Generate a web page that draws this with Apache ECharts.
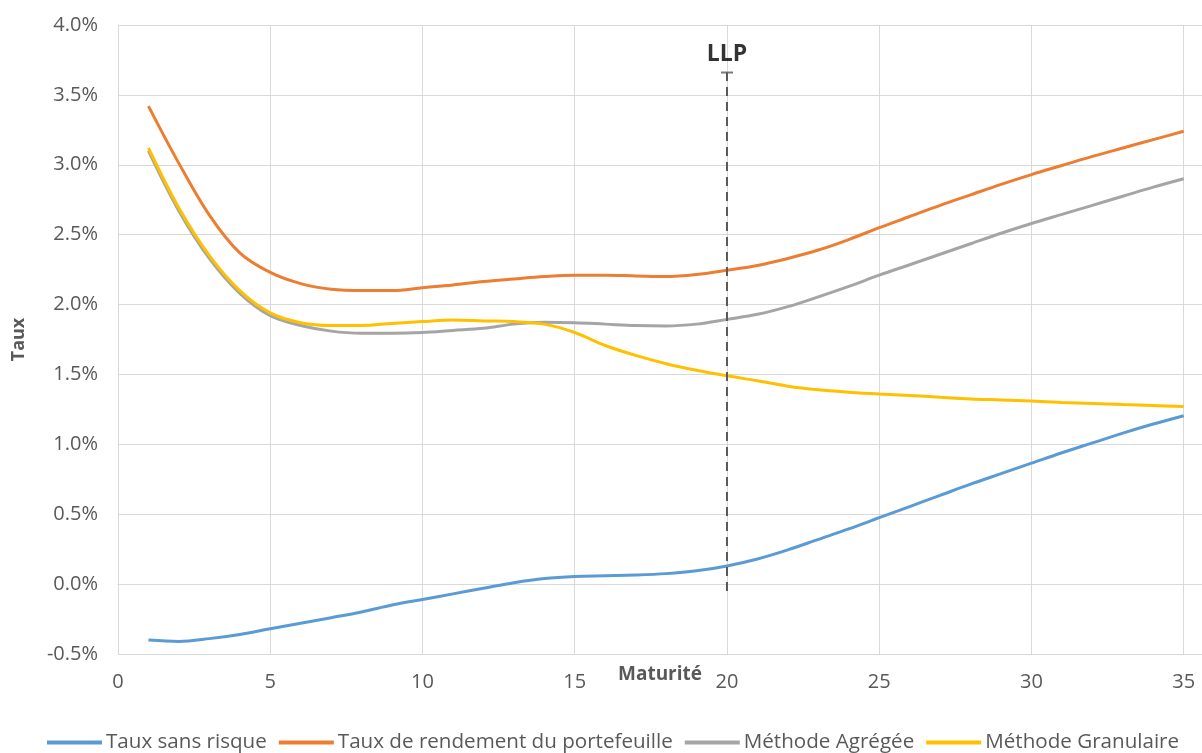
<!DOCTYPE html>
<html>
<head>
<meta charset="utf-8">
<script src="https://cdn.jsdelivr.net/npm/echarts@6/dist/echarts.min.js"></script>
<style>
  html, body { margin: 0; padding: 0; background: #ffffff; }
  #chart { width: 1202px; height: 753px; }
</style>
</head>
<body>
<div id="chart"></div>
<script>
// Maturités (années)
const maturites = [1,2,3,4,5,6,7,8,9,10,11,12,13,14,15,16,17,18,19,20,21,22,23,24,25,26,27,28,29,30,31,32,33,34,35];

// Taux en %
const tauxSansRisque = [-0.40,-0.41,-0.39,-0.36,-0.32,-0.28,-0.24,-0.20,-0.15,-0.11,-0.07,-0.03,0.01,0.04,0.055,0.06,0.065,0.075,0.095,0.13,0.18,0.245,0.32,0.395,0.475,0.555,0.635,0.715,0.79,0.865,0.94,1.01,1.08,1.145,1.205];
const tauxRendement = [3.42,3.01,2.64,2.37,2.23,2.15,2.11,2.10,2.10,2.12,2.14,2.165,2.183,2.20,2.21,2.21,2.205,2.20,2.215,2.246,2.28,2.33,2.39,2.465,2.55,2.63,2.71,2.785,2.86,2.93,2.995,3.06,3.12,3.18,3.24];
const methodeAgregee = [3.10,2.67,2.33,2.08,1.92,1.85,1.81,1.795,1.795,1.80,1.815,1.83,1.86,1.873,1.87,1.86,1.85,1.847,1.86,1.894,1.93,1.985,2.055,2.13,2.21,2.285,2.36,2.435,2.51,2.58,2.645,2.71,2.775,2.84,2.90];
const methodeGranulaire = [3.12,2.69,2.35,2.10,1.94,1.87,1.85,1.85,1.865,1.878,1.89,1.883,1.878,1.86,1.80,1.707,1.636,1.577,1.53,1.49,1.455,1.416,1.39,1.373,1.36,1.35,1.337,1.325,1.318,1.31,1.30,1.293,1.285,1.278,1.27];

// Repère LLP
const llpMaturite = 20;
const llpBas = -0.05;
const llpHaut = 3.66;

const noms = ['Taux sans risque', 'Taux de rendement du portefeuille', 'Méthode Agrégée', 'Méthode Granulaire'];
const couleurs = ['#5B9BD5', '#ED7D31', '#A5A5A5', '#FFC000'];
const series = [tauxSansRisque, tauxRendement, methodeAgregee, methodeGranulaire];

const police = '"Open Sans", Lato, sans-serif';
const chart = echarts.init(document.getElementById('chart'), null, { renderer: 'canvas' });

const courbes = series.map((vals, i) => ({
  name: noms[i],
  type: 'line',
  data: maturites.map((m, k) => [m, vals[k]]),
  smooth: 0.35,
  showSymbol: false,
  symbol: 'none',
  lineStyle: { color: couleurs[i], width: 3 },
  itemStyle: { color: couleurs[i] },
  z: 3 + (i === 3 ? 1 : 0),
  silent: true
}));

chart.setOption({
  animation: false,
  textStyle: { fontFamily: police },
  grid: { left: 118, top: 25, right: 0, bottom: 99, containLabel: false, outerBoundsMode: 'none' },
  legend: {
    data: noms,
    bottom: -5,
    left: 42,
    itemWidth: 55,
    itemHeight: 4,
    itemGap: 12,
    icon: 'rect',
    textStyle: { color: '#595959', fontSize: 20.6, fontFamily: police, padding: [0, 0, 0, -1] }
  },
  xAxis: {
    type: 'value',
    min: 0,
    max: 35.6,
    interval: 5,
    name: 'Maturité',
    nameLocation: 'middle',
    nameGap: 11,
    nameMoveOverlap: false,
    nameTextStyle: { color: '#595959', fontSize: 19, fontWeight: 'bold', fontFamily: police },
    axisLine: { show: true, onZero: true, lineStyle: { color: '#d9d9d9', width: 1 } },
    axisTick: { show: false },
    axisLabel: {
      color: '#595959', fontSize: 20, margin: 18, fontFamily: police,
      formatter: v => (v % 5 === 0 ? String(v) : '')
    },
    splitLine: { show: true, lineStyle: { color: '#d9d9d9', width: 1 } }
  },
  yAxis: {
    type: 'value',
    min: -0.5,
    max: 4.0,
    interval: 0.5,
    name: 'Taux',
    nameLocation: 'middle',
    nameGap: 90,
    nameMoveOverlap: false,
    nameTextStyle: { color: '#595959', fontSize: 18, fontWeight: 'bold', fontFamily: police },
    axisLine: { show: true, lineStyle: { color: '#d9d9d9', width: 1 } },
    axisTick: { show: false },
    axisLabel: {
      color: '#595959', fontSize: 20, margin: 20, fontFamily: police,
      formatter: v => v.toFixed(1) + '%'
    },
    splitLine: { show: true, lineStyle: { color: '#d9d9d9', width: 1 } }
  },
  series: [
    {
      name: 'LLP',
      type: 'line',
      data: [[llpMaturite, llpBas], [llpMaturite, llpHaut]],
      showSymbol: false,
      symbol: 'none',
      lineStyle: { color: '#595959', width: 2, type: [9, 6] },
      silent: true,
      z: 6
    },
    {
      name: 'LLP repère',
      type: 'scatter',
      data: [[llpMaturite, llpHaut]],
      symbol: 'rect',
      symbolSize: [12, 2],
      itemStyle: { color: '#595959' },
      label: {
        show: true,
        position: 'top',
        distance: 6,
        formatter: 'LLP',
        color: '#000000',
        fontSize: 23,
        fontWeight: 'bold',
        fontFamily: police
      },
      silent: true,
      z: 6
    },
    ...courbes
  ]
});
</script>
</body>
</html>
